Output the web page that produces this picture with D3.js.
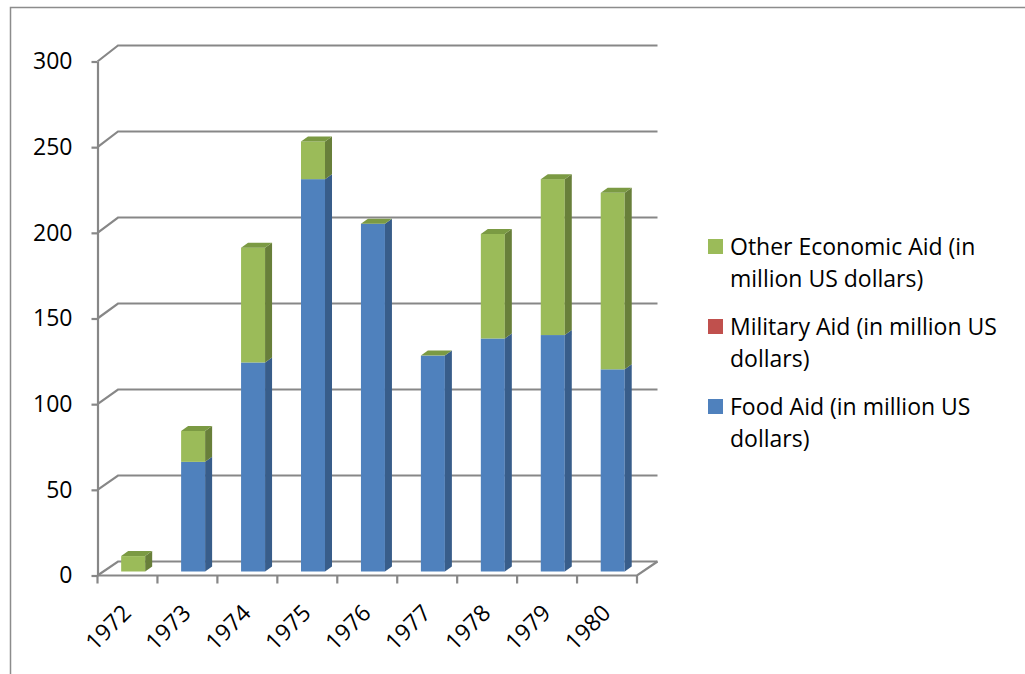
<!DOCTYPE html>
<html>
<head>
<meta charset="utf-8">
<script src="https://cdn.jsdelivr.net/npm/d3@7"></script>
<style>
  html, body { margin: 0; padding: 0; background: #fff; }
  svg { display: block; font-family: "Open Sans", Lato, sans-serif; }
</style>
</head>
<body>
<svg id="chart" width="1025" height="674"></svg>
<script>
// Aid by year, in million US dollars
const years = ["1972", "1973", "1974", "1975", "1976", "1977", "1978", "1979", "1980"];
const foodAid = [0, 64, 122, 229, 203, 126, 136, 138, 118];
const militaryAid = [0, 0, 0, 0, 0, 0, 0, 0, 0];
const otherAid = [9, 18, 67, 22, 0, 0, 61, 91, 103];
const yTicks = [0, 50, 100, 150, 200, 250, 300];

const seriesKeys = ["food", "military", "other"];
const seriesLabels = {
  other: ["Other Economic Aid (in", "million US dollars)"],
  military: ["Military Aid (in million US", "dollars)"],
  food: ["Food Aid (in million US", "dollars)"]
};
const frontColor = { food: "#4f81bd", military: "#c0504d", other: "#9bbb59" };
const sideColor = { food: "#385d8a", military: "#8c3836", other: "#687f3a" };
const topColor = { food: "#4672a8", military: "#a94744", other: "#7b9a43" };

const rows = years.map((y, i) => ({ year: y, food: foodAid[i], military: militaryAid[i], other: otherAid[i] }));
const stacked = d3.stack().keys(seriesKeys)(rows);

const svg = d3.select("#chart");
const gridColor = "#878787";
const fontSize = "23px";

// chart-area border
svg.append("rect")
  .attr("x", 10.5).attr("y", 7.5).attr("width", 1100).attr("height", 700)
  .attr("fill", "none").attr("stroke", "#8c8c8c").attr("stroke-width", 1.5);

// scales: front plane and back wall of the 3-D box
const x = d3.scaleBand().domain(years).range([97.5, 637]).padding(0);
const yFront = d3.scaleLinear().domain([0, 300]).range([575.5, 61.5]);
const yBack = d3.scaleLinear().domain([0, 300]).range([561.5, 45.5]);
const depthX = 20.5;
const [xL, xR] = x.range();

// gridlines: left side wall diagonal + back wall horizontal
const grid = svg.append("g").attr("fill", "none").attr("stroke", gridColor).attr("stroke-width", 2.2);
yTicks.forEach(v => {
  grid.append("path")
    .attr("d", `M${xL},${yFront(v)}L${xL + depthX},${yBack(v)}L${xR + depthX},${yBack(v)}`);
});
// floor outline
grid.append("path")
  .attr("d", `M${xL},${yFront(0)}L${xR},${yFront(0)}L${xR + depthX},${yBack(0)}`);

// y axis
const yAxis = d3.axisLeft(yFront).tickValues(yTicks).tickSize(6).tickSizeOuter(0).tickPadding(19);
const gy = svg.append("g").attr("transform", `translate(${xL},0)`).call(yAxis);
gy.select(".domain").attr("stroke", gridColor).attr("stroke-width", 2.2);
gy.selectAll(".tick line").attr("stroke", gridColor).attr("stroke-width", 2.2);
gy.selectAll(".tick text").attr("fill", "#000").style("font-size", fontSize)
  .style("font-family", "'Open Sans', Lato, sans-serif");

// x axis: boundary ticks and rotated labels
const gx = svg.append("g").attr("transform", `translate(0,${yFront(0)})`);
const bounds = years.map(y => x(y)).concat([xR]);
gx.selectAll("line.b").data(bounds).join("line")
  .attr("x1", d => d).attr("x2", d => d).attr("y1", 0).attr("y2", 8)
  .attr("stroke", gridColor).attr("stroke-width", 2.2);
gx.selectAll("text").data(years).join("text")
  .attr("transform", d => `translate(${x(d) + x.bandwidth() / 2 + 5},39) rotate(-45)`)
  .attr("text-anchor", "end")
  .style("font-size", fontSize)
  .attr("fill", "#000")
  .text(d => d);

// 3-D bars
const barW = 24;
const faceShift = { dx: 5.7, dy: -4 };
const barDepth = { dx: 7, dy: -5 };
const bars = svg.append("g");

function quad(p) { return "M" + p.map(q => q.join(",")).join("L") + "Z"; }

stacked.forEach(layer => {
  const key = layer.key;
  layer.forEach((seg, i) => {
    const [v0, v1] = seg;
    if (v1 - v0 <= 0) return;
    const year = years[i];
    const left = x(year) + x.bandwidth() / 2 + faceShift.dx - barW / 2;
    const right = left + barW;
    const yTop = yFront(v1) + faceShift.dy;
    const yBot = yFront(v0) + faceShift.dy;
    bars.append("rect")
      .attr("x", left).attr("y", yTop).attr("width", barW).attr("height", yBot - yTop)
      .attr("fill", frontColor[key]);
    bars.append("path")
      .attr("d", quad([[right, yTop], [right + barDepth.dx, yTop + barDepth.dy],
                       [right + barDepth.dx, yBot + barDepth.dy], [right, yBot]]))
      .attr("fill", sideColor[key]);
  });
});

// cap on each column, coloured as the top series
const topKey = seriesKeys[seriesKeys.length - 1];
rows.forEach((r, i) => {
  const total = seriesKeys.reduce((s, k) => s + r[k], 0);
  const left = x(r.year) + x.bandwidth() / 2 + faceShift.dx - barW / 2;
  const right = left + barW;
  const yTop = yFront(total) + faceShift.dy;
  bars.append("path")
    .attr("d", quad([[left, yTop], [left + barDepth.dx, yTop + barDepth.dy],
                     [right + barDepth.dx, yTop + barDepth.dy], [right, yTop]]))
    .attr("fill", topColor[topKey]);
});

// legend (top series first)
const legend = svg.append("g").style("font-size", fontSize);
const legendItems = [
  { key: "other", y: 246.5 },
  { key: "military", y: 326.5 },
  { key: "food", y: 406.5 }
];
legendItems.forEach(item => {
  legend.append("rect")
    .attr("x", 708).attr("y", item.y - 7.5).attr("width", 15).attr("height", 15)
    .attr("fill", frontColor[item.key]);
  seriesLabels[item.key].forEach((line, j) => {
    legend.append("text")
      .attr("x", 730).attr("y", item.y + j * 32).attr("dy", "0.35em")
      .attr("fill", "#000")
      .text(line);
  });
});
</script>
</body>
</html>
